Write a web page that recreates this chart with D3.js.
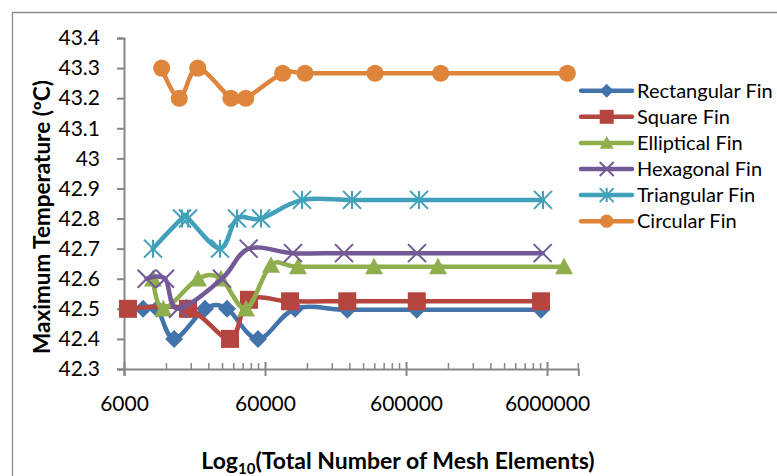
<!DOCTYPE html>
<html><head><meta charset="utf-8">
<script src="https://cdn.jsdelivr.net/npm/d3@7"></script>
<style>
html,body{margin:0;padding:0;background:#fff;}
svg{display:block;}
text{font-family:Lato,"Open Sans",sans-serif;fill:#000;}
</style></head>
<body><svg id="chart" width="777" height="476"></svg>
<script>
// ---- data ----
const seriesNames = ["Rectangular Fin","Square Fin","Elliptical Fin","Hexagonal Fin","Triangular Fin","Circular Fin"];
const rectX = [8200, 10300, 13600, 22500, 32300, 53500, 97900, 230000, 715000, 5440000];
const rectY = [42.5, 42.5, 42.4, 42.5, 42.5, 42.4, 42.5, 42.497, 42.497, 42.497];
const squareX = [6400, 17060, 33900, 46200, 90300, 230000, 715000, 5440000];
const squareY = [42.5, 42.5, 42.4, 42.53, 42.525, 42.525, 42.525, 42.525];
const ellipX = [9630, 11400, 20090, 29250, 44000, 66170, 102800, 355700, 1012000, 7920000];
const ellipY = [42.6, 42.5, 42.6, 42.6, 42.5, 42.645, 42.64, 42.64, 42.64, 42.64];
const hexX = [8690, 11720, 14490, 29730, 45900, 94800, 218000, 718000, 5590000];
const hexY = [42.6, 42.6, 42.5, 42.6, 42.7, 42.685, 42.685, 42.685, 42.685];
const triX = [9630, 15470, 17060, 28780, 37980, 56210, 109800, 248400, 742000, 5620000];
const triY = [42.7, 42.8, 42.8, 42.7, 42.8, 42.8, 42.862, 42.862, 42.862, 42.862];
const circX = [11100, 14800, 20000, 34400, 43800, 80100, 115300, 362000, 1057000, 8360000];
const circY = [43.3, 43.2, 43.3, 43.2, 43.2, 43.283, 43.283, 43.283, 43.283, 43.283];
const xTickValues = [6000, 60000, 600000, 6000000];
const xDomain = [6000, 10000000];
const yTickValues = [42.3, 42.4, 42.5, 42.6, 42.7, 42.8, 42.9, 43.0, 43.1, 43.2, 43.3, 43.4];
const yDomain = [42.3, 43.4];
const xTitle = "Total Number of Mesh Elements)";
const yTitle = "Maximum Temperature (ºC)";

// ---- styles ----
const colors = ["#4273AA", "#B4453F", "#8FAF4C", "#735996", "#41A1BA", "#DE843B"];
const shapes = ["diamond","square","triangle","x","asterisk","circle"];

const svg = d3.select("#chart");
const x = d3.scaleLog().domain(xDomain).range([124, 578.3]);
const y = d3.scaleLinear().domain(yDomain).range([369, 38]);

// outer border (chart area frame, extends beyond the view)
svg.append("path").attr("d","M12.5,480 L12.5,12.5 L780,12.5")
  .attr("fill","none").attr("stroke","#8c8c8c").attr("stroke-width",1.3);

const axisColor = "#878787";
// y axis
const gy = svg.append("g").attr("transform","translate(124,0)")
  .call(d3.axisLeft(y).tickValues(yTickValues).tickSize(7).tickPadding(17)
     .tickFormat(d => d3.format("")(+d.toFixed(1))));
gy.select(".domain").attr("stroke",axisColor).attr("stroke-width",2);
gy.selectAll(".tick line").attr("stroke",axisColor).attr("stroke-width",2);
gy.selectAll(".tick text").attr("font-size",21).attr("font-family","Lato").attr("fill","#000");

// x axis
const gx = svg.append("g").attr("transform","translate(0,369)")
  .call(d3.axisBottom(x).tickValues(xTickValues).tickSize(7).tickPadding(20)
     .tickFormat(d3.format("d")));
gx.select(".domain").attr("stroke",axisColor).attr("stroke-width",2);
gx.selectAll(".tick line").attr("stroke",axisColor).attr("stroke-width",2).attr("y1",-7);
gx.selectAll(".tick text").attr("font-size",21).attr("font-family","Lato").attr("fill","#000");
// minor ticks
const minor = [];
for (let d = 6000; d < xDomain[1]; d *= 10) for (let k = 2; k <= 9; k++) if (d*k < xDomain[1]) minor.push(d*k);
minor.push(xDomain[1]);
gx.selectAll(".minor").data(minor).enter().append("line")
  .attr("x1",d=>x(d)).attr("x2",d=>x(d)).attr("y1",-6).attr("y2",0)
  .attr("stroke",axisColor).attr("stroke-width",1.5);

// titles
svg.append("text").attr("x",398).attr("y",469).attr("text-anchor","middle")
  .attr("font-size",23).attr("font-weight","bold")
  .call(t => { t.append("tspan").text("Log");
               t.append("tspan").attr("font-size",15).attr("dy",5).text("10");
               t.append("tspan").attr("dy",-5).text("(" + xTitle); });
svg.append("text").attr("transform","translate(50,217) rotate(-90)")
  .attr("text-anchor","middle").attr("font-size",22.5).attr("font-weight","bold").text(yTitle);

// marker drawer
function marker(sel, shape, color, s) {
  let p;
  if (shape === "diamond") p = `M0,${-s}L${s},0L0,${s}L${-s},0Z`;
  else if (shape === "square") p = `M${-s},${-s}H${s}V${s}H${-s}Z`;
  else if (shape === "triangle") p = `M0,${-s}L${s},${s*0.85}L${-s},${s*0.85}Z`;
  else if (shape === "circle") { sel.append("circle").attr("r",s*0.95).attr("fill",color); return; }
  else if (shape === "x") { sel.append("path").attr("d",`M${-s},${-s}L${s},${s}M${-s},${s}L${s},${-s}`)
        .attr("stroke",color).attr("stroke-width",2).attr("fill","none"); return; }
  else if (shape === "asterisk") { sel.append("path").attr("d",`M${-s},${-s}L${s},${s}M${-s},${s}L${s},${-s}M0,${-s}V${s}`)
        .attr("stroke",color).attr("stroke-width",2).attr("fill","none"); return; }
  sel.append("path").attr("d",p).attr("fill",color);
}

const allX = [rectX, squareX, ellipX, hexX, triX, circX];
const allY = [rectY, squareY, ellipY, hexY, triY, circY];
const line = d3.line().x(d=>x(d[0])).y(d=>y(d[1])).curve(d3.curveCatmullRom.alpha(0));

allX.forEach((xs, i) => {
  const pts = xs.map((v, j) => [v, allY[i][j]]);
  const g = svg.append("g");
  g.append("path").attr("d", line(pts)).attr("fill","none")
    .attr("stroke", colors[i]).attr("stroke-width", 4.5).attr("stroke-linecap","round");
  pts.forEach(p => {
    const m = g.append("g").attr("transform",`translate(${x(p[0])},${y(p[1])})`);
    marker(m, shapes[i], colors[i], 9);
  });
});

// legend
const lg = svg.append("g");
seriesNames.forEach((name, i) => {
  const yy = 90.7 + i * 26.1;
  lg.append("line").attr("x1",581).attr("x2",632).attr("y1",yy).attr("y2",yy)
    .attr("stroke",colors[i]).attr("stroke-width",4.5).attr("stroke-linecap","round");
  const m = lg.append("g").attr("transform",`translate(606.7,${yy})`);
  marker(m, shapes[i], colors[i], 7);
  lg.append("text").attr("x",637).attr("y",yy).attr("dy","0.35em")
    .attr("font-size",20).text(name);
});
</script></body></html>
